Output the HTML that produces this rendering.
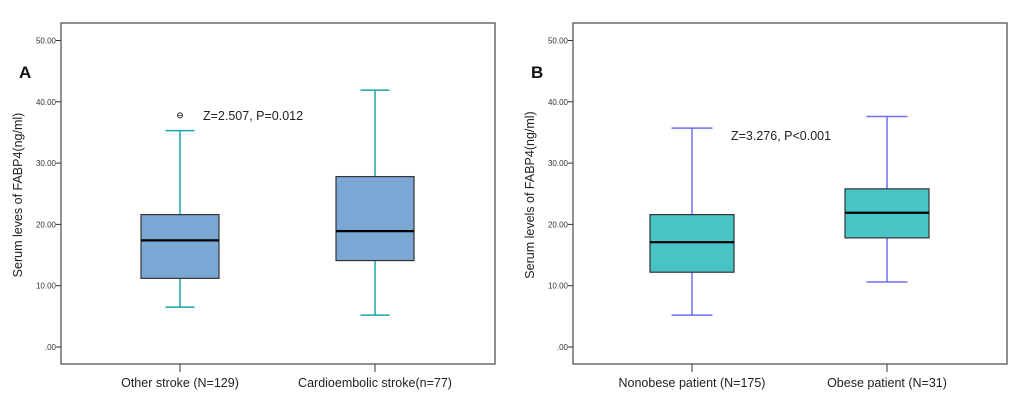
<!DOCTYPE html>
<html><head><meta charset="utf-8"><style>
body{margin:0;background:#fff;}
svg{display:block;font-family:"Liberation Sans",Arial,sans-serif;}
</style></head><body>
<svg id="c" width="1020" height="412"></svg>
<script>
const ticks=[0,10,20,30,40,50];
const tickLabels=[".00","10.00","20.00","30.00","40.00","50.00"];
const catsA=["Other stroke (N=129)","Cardioembolic stroke(n=77)"];
const minA=[6.5,5.2], q1A=[11.2,14.1], medA=[17.4,18.9], q3A=[21.6,27.8], maxA=[35.3,41.9];
const outA=[37.8];
const catsB=["Nonobese patient (N=175)","Obese patient (N=31)"];
const minB=[5.2,10.6], q1B=[12.2,17.8], medB=[17.1,21.9], q3B=[21.6,25.8], maxB=[35.7,37.6];
const svg=document.getElementById('c');
const NS='http://www.w3.org/2000/svg';
function mk(t,a,txt){const e=document.createElementNS(NS,t);for(const k in a)e.setAttribute(k,a[k]);if(txt!==undefined)e.textContent=txt;svg.appendChild(e);return e;}
function y(v){return 347-v*(306.5/50);}
function panel(p){
  const f=mk('rect',{x:p.x0,y:23,width:p.x1-p.x0,height:341,fill:'none',stroke:'#555','stroke-width':1.3});
  
  
  ticks.forEach((t,i)=>{
    const l=mk('line',{x1:p.x0-5,x2:p.x0,y1:y(t),y2:y(t),stroke:'#333'});
    
    
    const tx=mk('text',{x:p.x0-5,y:y(t)+3,'font-size':8,'text-anchor':'end',fill:'#333'},tickLabels[i]);
    
    
  });
  const yt=mk('text',{x:0,y:0,'font-size':12.5,'text-anchor':'middle',fill:'#222',transform:`translate(${p.x0-39},195) rotate(-90)`},p.ytitle);
  
  
  const lt=mk('text',{x:p.x0-42,y:78,'font-size':17,'font-weight':'bold',fill:'#111'},p.letter);
  
  
  p.cats.forEach((c,i)=>{
    const cx=p.cx[i], hw=p.bw/2, cw=p.cw/2;
    const xt=mk('line',{x1:cx,x2:cx,y1:364,y2:372,stroke:'#333'});
    
    
    const xl=mk('text',{x:cx,y:387,'font-size':12.5,'text-anchor':'middle',fill:'#222'},c);
    
    
    const w1=mk('line',{x1:cx,x2:cx,y1:y(p.max[i]),y2:y(p.q3[i]),stroke:p.wc,'stroke-width':1.5});
    
    
    const w2=mk('line',{x1:cx,x2:cx,y1:y(p.q1[i]),y2:y(p.min[i]),stroke:p.wc,'stroke-width':1.5});
    
    
    const c1=mk('line',{x1:cx-cw,x2:cx+cw,y1:y(p.max[i]),y2:y(p.max[i]),stroke:p.wc,'stroke-width':1.5});
    
    
    const c2=mk('line',{x1:cx-cw,x2:cx+cw,y1:y(p.min[i]),y2:y(p.min[i]),stroke:p.wc,'stroke-width':1.5});
    
    
    const b=mk('rect',{x:cx-hw,y:y(p.q3[i]),width:p.bw,height:y(p.q1[i])-y(p.q3[i]),fill:p.fc,stroke:'#333','stroke-width':1.2});
    
    
    const m=mk('line',{x1:cx-hw,x2:cx+hw,y1:y(p.med[i]),y2:y(p.med[i]),stroke:'#000','stroke-width':2.2});
    
    
  });
  const an=mk('text',{x:p.ax,y:p.ay,'font-size':12.5,fill:'#222'},p.ann);
  
  
}
panel({id:'panel-a',x0:61,x1:495,cx:[180,375],bw:78,cw:29,cats:catsA,min:minA,q1:q1A,med:medA,q3:q3A,max:maxA,
  fc:'#7ba7d4',wc:'#1aa6a6',letter:'A',ytitle:'Serum leves of FABP4(ng/ml)',ann:'Z=2.507, P=0.012',ax:203,ay:120});
outA.forEach(v=>{
  const o=mk('circle',{cx:180,cy:y(v),r:2.5,fill:'none',stroke:'#333','stroke-width':1});
  
  
  const ol=mk('line',{x1:178,x2:182,y1:y(v),y2:y(v),stroke:'#333','stroke-width':0.8});
  
  
});
panel({id:'panel-b',x0:573,x1:1007,cx:[692,887],bw:84,cw:41,cats:catsB,min:minB,q1:q1B,med:medB,q3:q3B,max:maxB,
  fc:'#48c3c6',wc:'#6e6ef5',letter:'B',ytitle:'Serum levels of FABP4(ng/ml)',ann:'Z=3.276, P<0.001',ax:731,ay:140});
</script>
</body></html>
